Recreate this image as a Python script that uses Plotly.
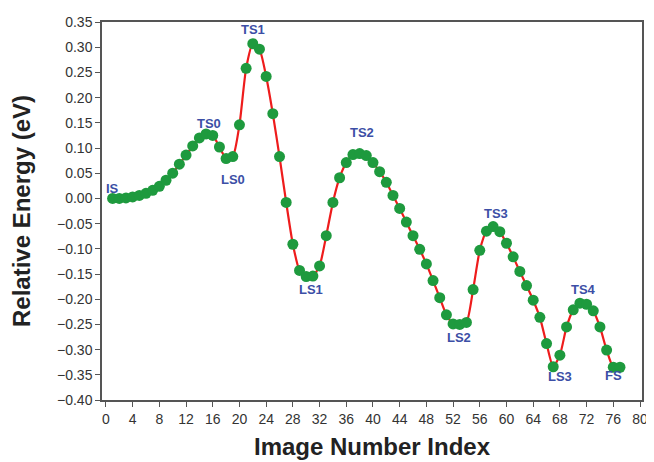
import plotly.graph_objects as go

image_index = list(range(1, 78))
energy = [
    0.000, 0.000, 0.001, 0.003, 0.006, 0.010, 0.016, 0.024, 0.036, 0.050,
    0.068, 0.086, 0.104, 0.120, 0.128, 0.125, 0.102, 0.079, 0.083, 0.146,
    0.258, 0.307, 0.296, 0.242, 0.168, 0.083, -0.008, -0.091, -0.143, -0.155,
    -0.154, -0.134, -0.074, -0.008, 0.041, 0.071, 0.087, 0.089, 0.085, 0.071,
    0.053, 0.032, 0.006, -0.020, -0.047, -0.074, -0.101, -0.130, -0.163, -0.197,
    -0.231, -0.249, -0.250, -0.246, -0.181, -0.103, -0.065, -0.056, -0.066, -0.089,
    -0.116, -0.145, -0.173, -0.202, -0.236, -0.288, -0.334, -0.311, -0.255, -0.221,
    -0.208, -0.210, -0.223, -0.255, -0.301, -0.335, -0.335,
]

state_labels = ["IS", "TS0", "LS0", "TS1", "TS2", "LS1", "TS3", "LS2", "TS4", "LS3", "FS"]
label_x = [1.0, 15.5, 19.0, 22.0, 38.3, 30.7, 58.5, 52.9, 71.6, 68.0, 76.0]
label_y = [0.019, 0.148, 0.037, 0.335, 0.130, -0.181, -0.030, -0.276, -0.180, -0.354, -0.352]

x_ticks = list(range(0, 81, 4))

fig = go.Figure()
fig.add_trace(go.Scatter(
    x=image_index, y=energy, mode="lines+markers",
    line=dict(color="#ee1c1c", width=2.2, shape="spline", smoothing=0.6),
    marker=dict(color="#1e9a3e", size=11, line=dict(width=0)),
    showlegend=False, hoverinfo="skip",
))

for t, x, y in zip(state_labels, label_x, label_y):
    fig.add_annotation(x=x, y=y, text="<b>%s</b>" % t, showarrow=False,
                       font=dict(family="Liberation Sans", size=13, color="#3c4fa6"))

axis_common = dict(showline=True, linecolor="#555555", linewidth=1.5, mirror=True,
                   ticks="outside", ticklen=5, tickcolor="#555555", tickwidth=1,
                   showgrid=False, zeroline=False, ticklabeloverflow="allow",
                   tickfont=dict(family="Liberation Sans", size=14, color="#333333"))

fig.update_xaxes(range=[-0.59, 80.3], tickvals=x_ticks,
                 title=dict(text="<b>Image Number Index</b>", standoff=13,
                            font=dict(family="Liberation Sans", size=24, color="#222222")),
                 **axis_common)
fig.update_yaxes(range=[-0.40, 0.35], dtick=0.05, tickformat=".2f",
                 title=dict(text="<b>Relative Energy (eV)</b>", standoff=20,
                            font=dict(family="Liberation Sans", size=24, color="#222222")),
                 **axis_common)

# the page body adds an 8 px margin, so the figure is sized and placed to compensate
fig.update_layout(
    width=646, height=454,
    margin=dict(l=94, r=6, t=9, b=58),
    plot_bgcolor="white", paper_bgcolor="white",
)

fig.write_html("out.html")
